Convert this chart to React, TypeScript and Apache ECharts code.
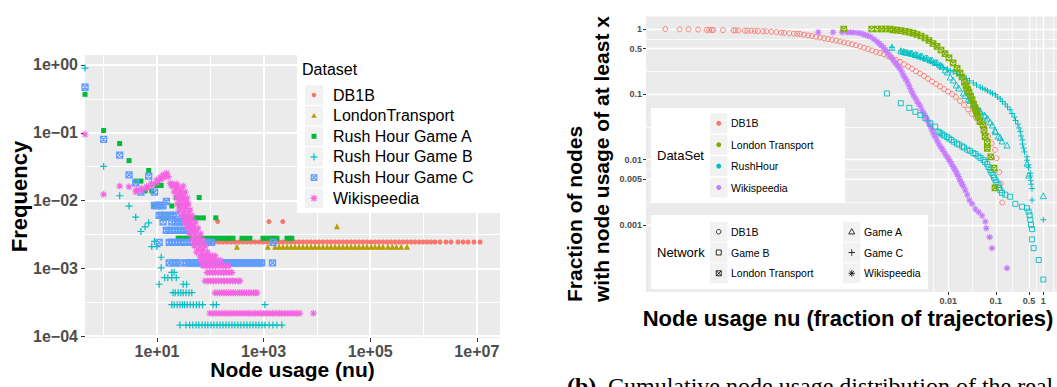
import React, { useEffect, useRef } from 'react';
import * as echarts from 'echarts';

const SANS = '"Liberation Sans", Arial, Helvetica, sans-serif';
const SERIF = '"Liberation Serif", "Times New Roman", serif';

// ggplot default hues
const HUE_DATASET = ['#F8766D', '#B79F00', '#00BA38', '#00BFC4', '#619CFF', '#F564E3'];
const HUE_CUMUL = ['#F8766D', '#7CAE00', '#00BFC4', '#C77CFF'];

// stroked marker shapes (ggplot shapes 3, 7 and 8)
const SYM_PLUS = 'path://M5,0V10M0,5H10';
const SYM_SQUARE_X = 'path://M0,0H10V10H0Z M0,0L10,10 M10,0L0,10';
const SYM_ASTERISK = 'path://M5,0V10 M0,5H10 M1.46,1.46L8.54,8.54 M8.54,1.46L1.46,8.54';

// ---------------- left panel: frequency of node usage ----------------
const leftNuRange = [0.447, 2.72e7];
const leftFreqRange = [9.41e-5, 1.404];
const leftNuTicks = [10, 1e3, 1e5, 1e7];
const leftNuTickLabels = ['1e+01', '1e+03', '1e+05', '1e+07'];
const leftNuMinor = [1, 100, 1e4, 1e6];
const leftFreqTicks = [1, 0.1, 0.01, 0.001, 0.0001];
const leftFreqTickLabels = ['1e+00', '1e\u221201', '1e\u221202', '1e\u221203', '1e\u221204'];
const leftFreqMinor = [0.3162, 0.03162, 0.003162, 0.0003162];

// nodes with zero usage are drawn on the left border of the panel
const NU_ZERO = 0.447;

const datasetNames = ['DB1B', 'LondonTransport', 'Rush Hour Game A', 'Rush Hour Game B', 'Rush Hour Game C', 'Wikispeedia'];

const DB1B_FREQ = 0.00245;
const db1bBandNu = [73, 87, 103, 122, 146, 173, 206, 244, 290, 345, 410, 488, 580, 690, 820, 975, 1160, 1380, 1640, 1950, 2310, 2750, 3270, 3880, 4610, 5480, 6520, 7750, 9200, 10900, 13000, 15500, 18400, 21900, 26000, 30900, 36700, 43700, 51900, 61700, 73300, 87100, 104000, 123000, 146000, 174000, 207000, 246000, 292000, 347000, 412000, 490000, 582000, 692000, 824000, 980000, 1160000, 1380000, 1640000, 2040000, 2640000, 3280000, 4440000, 5510000, 6840000, 8860000, 11500000];
const db1bOther = [[138, 0.0049], [1260, 0.0049], [2290, 0.0049]];

const LONDON_FREQ = 0.00209;
const londonBandNu = [316, 1200, 1640, 1950, 2310, 2750, 3270, 3880, 4610, 5480, 6520, 7750, 9200, 10900, 13000, 15500, 18400, 21900, 26000, 30900, 36700, 43700, 51900, 61700, 73300, 87100, 104000, 123000, 146000, 174000, 215000, 260000, 310000, 380000, 490000];
const londonOther = [[23800, 0.00417]];

const gameAOther = [[NU_ZERO, 0.369], [1, 0.108], [2, 0.0694], [3, 0.0389], [7, 0.0278], [4, 0.0194], [5, 0.0194], [10, 0.0167], [12, 0.0167], [6, 0.0139], [8, 0.0139], [23, 0.0111], [62, 0.0111]];
const gameA3 = [9, 11, 19, 27];
const gameA2 = [13, 16, 31, 36, 42, 50, 60, 74, 127];
const gameA1 = [25, 28, 32, 36, 40, 47, 55, 64, 75, 87, 100, 115, 135, 155, 180, 210, 240, 267, 393, 460, 553, 975, 1150, 1350, 1550, 1780, 2750, 3100, 3380];

const gameBOther = [[NU_ZERO, 0.9], [1, 0.032], [2, 0.0118], [3, 0.0083], [4, 0.0057], [5, 0.0035], [6, 0.0041], [7, 0.0047], [9, 0.0025], [8, 0.0021], [10, 0.0021], [12, 0.00146], [12, 0.00102], [19, 0.000876], [21, 0.000876]];
const gameB5 = [14, 16, 19, 23];
const gameB4 = [11, 31, 36];
const gameB3 = [20, 22, 25, 28, 31, 35, 40, 45];
const gameB2 = [19, 21, 24, 27, 30, 33, 37, 42, 48, 55, 62, 72, 113, 130, 1060];
const gameB1 = [27, 35, 41, 47, 54, 61, 70, 80, 90, 103, 117, 134, 152, 173, 197, 224, 255, 290, 330, 376, 428, 488, 555, 632, 719, 819, 932, 1060, 1270, 1500, 1780, 2200];

const gameCOther = [[NU_ZERO, 0.47], [1, 0.08], [2, 0.047], [3, 0.024], [7, 0.023], [4, 0.0182], [5, 0.0133], [9, 0.0133], [15, 0.0097]];
const gameC7 = [9, 10, 11, 12, 13];
const gameC5 = [11, 12, 14, 16, 18, 20, 23];
const gameC4 = [13, 19, 22, 25, 27, 31, 38];
const gameC3 = [15, 17, 19, 22, 25, 28, 32, 36, 41, 47];
const gameC2 = [11, 17, 19, 22, 25, 28, 32, 36, 41, 47, 54, 62, 70, 80, 92, 105, 1500];
const gameC1 = [17, 20, 23, 27, 36, 40, 45, 50, 56, 62, 70, 78, 87, 97, 108, 120, 134, 150, 167, 186, 207, 231, 257, 287, 320, 357, 398, 443, 494, 550, 614, 684, 762, 850, 920, 1470];

const wikiHead = [[NU_ZERO, 0.095], [1, 0.0124], [2, 0.0164], [3, 0.016],
  [4.1, 0.0144], [5.2, 0.0152], [6.4, 0.0161], [7.9, 0.018], [9.9, 0.0201], [11.4, 0.0221], [13.1, 0.024], [15.2, 0.0254], [16.3, 0.0226],
  [4, 0.0135], [5, 0.0141], [6.5, 0.015], [8, 0.0166], [10, 0.0184], [12, 0.0204], [14, 0.0224],
  [17.6, 0.018], [20, 0.0175], [23.5, 0.0175], [27, 0.0128], [31, 0.0109], [36, 0.0092]];
const wikiSlope = [
  [19, 0.0164], [24, 0.0164], [31, 0.0164], [23, 0.0148], [28, 0.0148],
  [21, 0.0134], [27, 0.0134], [34, 0.0134], [25, 0.0121], [31, 0.0121],
  [23, 0.0109], [29, 0.0109], [37, 0.0109], [27, 0.00987], [33, 0.00987],
  [24, 0.0089], [31, 0.0089], [39, 0.0089], [28, 0.00805], [35, 0.00805],
  [26, 0.00727], [33, 0.00727], [42, 0.00727], [31, 0.00656], [38, 0.00656],
  [29, 0.00593], [37, 0.00593], [46, 0.00593], [35, 0.00535], [43, 0.00535],
  [33, 0.00483], [42, 0.00483], [53, 0.00483], [39, 0.00437], [48, 0.00437],
  [37, 0.00394], [47, 0.00394], [59, 0.00394], [44, 0.00356], [54, 0.00356],
  [41, 0.00322], [52, 0.00322], [66, 0.00322], [49, 0.0029], [60, 0.0029],
  [46, 0.00262], [58, 0.00262], [73, 0.00262], [54, 0.00237], [66, 0.00237],
  [50, 0.00214], [64, 0.00214], [81, 0.00214], [60, 0.00193], [73, 0.00193],
  [55, 0.00175], [70, 0.00175], [89, 0.00175]];
const wiki7 = [64, 72, 82, 95, 110, 123];
const wiki6 = [66, 76, 88, 101, 116, 134, 155];
const wiki5 = [73, 84, 96, 110, 127, 146, 168, 193, 222];
const wiki4 = [87, 98, 110, 124, 140, 158, 178, 200, 226, 255];
const wiki3 = [80, 90, 101, 114, 128, 145, 163, 183, 206, 232, 262, 295, 330, 360];
const wiki2 = [123, 135, 150, 165, 182, 200, 220, 243, 268, 295, 325, 358, 395, 435, 480, 530, 585, 645, 710, 750];
const wiki1 = [98, 112, 128, 146, 166, 189, 215, 244, 278, 316, 360, 410, 466, 530, 605, 688, 783, 890, 1010, 1150, 1310, 1490, 1700, 1940, 2200, 2500, 2850, 3240, 3690, 4200, 4780, 8600];

// ---------------- right panel: cumulative node usage ----------------
const rightNuRange = [4.32e-9, 1.94];
const rightFracRange = [9.38e-5, 1.554];
const rightNuTicks = [0.01, 0.1, 0.5, 1];
const rightNuTickLabels = ['0.01', '0.1', '0.5', '1'];
const rightNuMinor = [0.0048, 0.0316, 0.224, 0.707, 1.6];
const rightFracTicks = [0.001, 0.005, 0.01, 0.1, 0.5, 1];
const rightFracTickLabels = ['0.001', '0.005', '0.01', '0.1', '0.5', '1'];
const rightFracMinor = [0.00224, 0.00707, 0.0316, 0.224, 0.707];

const cumulDataSets = ['DB1B', 'London Transport', 'RushHour', 'Wikispeedia'];
const networkNames = ['DB1B', 'Game B', 'London Transport', 'Game A', 'Game C', 'Wikispeedia'];

const db1bCumul = [[1.1e-8, 1], [2.2e-8, 0.99], [3.4e-8, 0.99], [5.4e-8, 0.98], [8.1e-8, 0.97], [9.2e-8, 0.97], [1.05e-7, 0.965], [1.13e-7, 0.965], [1.8e-7, 0.96], [3.0e-7, 0.955], [3.3e-7, 0.955], [3.8e-7, 0.95], [5.2e-7, 0.945], [5.9e-7, 0.942], [7.1e-7, 0.94], [8.4e-7, 0.935], [9.8e-7, 0.93], [1.25e-6, 0.925], [1.47e-6, 0.92], [1.86e-6, 0.91], [2.4e-6, 0.895], [3.0e-6, 0.88], [3.5e-6, 0.87], [4.5e-6, 0.86], [5.6e-6, 0.85], [6.6e-6, 0.84],
  [7.55e-6, 0.838], [9.17e-6, 0.818], [1.11e-5, 0.801], [1.35e-5, 0.781], [1.64e-5, 0.762], [1.99e-5, 0.741], [2.42e-5, 0.72], [2.93e-5, 0.703], [3.56e-5, 0.684], [4.32e-5, 0.665], [5.25e-5, 0.644], [6.37e-5, 0.624], [7.73e-5, 0.604], [9.39e-5, 0.583], [1.14e-4, 0.563], [1.38e-4, 0.54], [1.68e-4, 0.517], [2.04e-4, 0.494], [2.48e-4, 0.47], [3.01e-4, 0.447], [3.65e-4, 0.43], [4.43e-4, 0.41], [5.38e-4, 0.386], [6.53e-4, 0.36], [7.93e-4, 0.335], [9.62e-4, 0.313], [1.17e-3, 0.288], [1.42e-3, 0.267], [1.72e-3, 0.246], [2.09e-3, 0.226], [2.54e-3, 0.208], [3.08e-3, 0.191], [3.74e-3, 0.173], [4.54e-3, 0.157], [5.51e-3, 0.144], [6.69e-3, 0.132], [8.12e-3, 0.12], [9.86e-3, 0.11], [0.012, 0.101], [0.0145, 0.091], [0.0176, 0.079], [0.0214, 0.0685], [0.026, 0.0585], [0.0315, 0.05], [0.0383, 0.0434], [0.0465, 0.0376], [0.0565, 0.0305], [0.0685, 0.023], [0.082, 0.0177], [0.096, 0.0141], [0.104, 0.0105], [0.118, 0.0064], [0.127, 0.0043], [0.137, 0.0022]];

const londonCumul = [[6.3e-5, 1], [2.44e-4, 1], [3.2e-4, 1], [3.96e-4, 1], [4.81e-4, 1], [5.93e-4, 1], [6.85e-4, 0.972], [8.32e-4, 0.958], [1.01e-3, 0.942], [1.23e-3, 0.922], [1.49e-3, 0.897], [1.81e-3, 0.862], [2.19e-3, 0.824], [2.66e-3, 0.781], [3.23e-3, 0.728], [3.92e-3, 0.667], [4.76e-3, 0.6], [5.78e-3, 0.54], [7.02e-3, 0.477], [8.52e-3, 0.421], [0.0103, 0.36], [0.0126, 0.302], [0.0153, 0.249], [0.0176, 0.212], [0.0194, 0.184], [0.0219, 0.154], [0.0236, 0.136], [0.0254, 0.12], [0.0273, 0.108], [0.0293, 0.094], [0.0316, 0.0833], [0.034, 0.071], [0.0365, 0.0628], [0.0383, 0.0557], [0.0402, 0.0508], [0.0422, 0.0458], [0.0465, 0.038], [0.0538, 0.0339], [0.0565, 0.0282], [0.0593, 0.0225], [0.0662, 0.0186], [0.0662, 0.0149], [0.0781, 0.011], [0.0916, 0.0074], [0.0961, 0.0037]];

const gameACumul = [[6.5e-4, 0.524], [1e-3, 0.465], [1.15e-3, 0.452], [1.24e-3, 0.444], [1.37e-3, 0.44], [1.58e-3, 0.43], [1.72e-3, 0.424], [2.02e-3, 0.407], [2.19e-3, 0.404], [2.58e-3, 0.386], [2.79e-3, 0.383], [3.28e-3, 0.36], [3.6e-3, 0.36], [4.18e-3, 0.335], [4.54e-3, 0.335], [5.3e-3, 0.307], [5.78e-3, 0.307], [6.79e-3, 0.281], [7.37e-3, 0.267], [8.6e-3, 0.236], [9.5e-3, 0.22], [0.011, 0.184], [0.0126, 0.166], [0.0147, 0.139], [0.0165, 0.125], [0.0207, 0.105], [0.0226, 0.0961], [0.0264, 0.085], [0.0287, 0.0806], [0.0336, 0.0685], [0.0365, 0.0674], [0.0408, 0.0597], [0.0465, 0.0566], [0.047, 0.0542], [0.0573, 0.048], [0.0593, 0.0465], [0.066, 0.0433], [0.0756, 0.0376], [0.0844, 0.0339], [0.0963, 0.0282], [0.098, 0.0268], [0.113, 0.0229], [0.123, 0.0218], [0.135, 0.0193], [0.172, 0.0167], [0.454, 0.0088], [0.49, 0.0058], [1, 0.0028]];

const gameBCumul = [[5.1e-4, 0.103], [1.0e-3, 0.073], [1.51e-3, 0.062], [2.02e-3, 0.054], [2.58e-3, 0.048], [3.28e-3, 0.043], [4.18e-3, 0.036], [5.3e-3, 0.032], [6.2e-3, 0.0268], [6.79e-3, 0.0256], [7.5e-3, 0.0243], [8.12e-3, 0.0233], [9.3e-3, 0.0222], [0.0104, 0.021], [0.0116, 0.02], [0.013, 0.0188], [0.0152, 0.0176], [0.0169, 0.017], [0.0197, 0.0159], [0.0214, 0.0153], [0.0251, 0.0142], [0.0287, 0.0136], [0.0336, 0.0126], [0.0375, 0.0121], [0.0428, 0.0112], [0.0476, 0.0106], [0.055, 0.0099], [0.0593, 0.0092], [0.066, 0.0085], [0.0701, 0.0077], [0.0766, 0.0069], [0.0812, 0.0063], [0.0886, 0.0058], [0.0916, 0.0053], [0.098, 0.0049], [0.103, 0.0045], [0.113, 0.0041], [0.117, 0.0037], [0.124, 0.0034], [0.135, 0.0031], [0.158, 0.0029], [0.2, 0.0027], [0.257, 0.0021], [0.356, 0.0019], [0.454, 0.0018], [0.49, 0.0016], [0.515, 0.0014], [0.532, 0.0012], [0.55, 0.001], [0.578, 8.6e-4], [0.578, 6.0e-4], [0.625, 4.4e-4], [0.8, 2.9e-4], [1.0, 1.46e-4]];

const gameCCumul = [[6.5e-4, 0.524], [1e-3, 0.46], [1.15e-3, 0.444], [1.37e-3, 0.43], [1.58e-3, 0.414], [1.83e-3, 0.4], [2.17e-3, 0.382], [2.58e-3, 0.366], [3.05e-3, 0.35], [3.6e-3, 0.335], [4.18e-3, 0.318], [4.83e-3, 0.302], [5.73e-3, 0.286], [6.79e-3, 0.271], [8e-3, 0.257], [9.5e-3, 0.244], [0.011, 0.231], [0.0127, 0.22], [0.0149, 0.206], [0.0179, 0.194], [0.0204, 0.184], [0.024, 0.175], [0.0279, 0.161], [0.0336, 0.149], [0.0392, 0.139], [0.047, 0.129], [0.0524, 0.124], [0.06, 0.118], [0.0668, 0.113], [0.0766, 0.108], [0.0852, 0.103], [0.098, 0.098], [0.108, 0.0909], [0.124, 0.085], [0.138, 0.0775], [0.158, 0.071], [0.176, 0.0642], [0.2, 0.058], [0.219, 0.0508], [0.245, 0.045], [0.26, 0.0397], [0.29, 0.035], [0.308, 0.0305], [0.328, 0.0268], [0.34, 0.023], [0.361, 0.02], [0.365, 0.0173], [0.385, 0.015], [0.402, 0.0131], [0.454, 0.011], [0.454, 0.0098], [0.49, 0.0083], [0.488, 0.0075], [0.532, 0.0062], [0.525, 0.0056], [0.545, 0.0048], [0.551, 0.0042], [0.578, 0.0036], [0.578, 0.0024], [1, 0.0012]];

const wikiCumul = [[1.83e-5, 0.89], [3.74e-5, 0.89], [5.8e-5, 0.89], [7.4e-5, 0.89], [8.6e-5, 0.888], [1.0e-4, 0.885], [1.2e-4, 0.875], [1.4e-4, 0.86], [1.6e-4, 0.835], [1.79e-4, 0.81], [2.0e-4, 0.79], [2.28e-4, 0.763], [2.7e-4, 0.7], [3.16e-4, 0.64], [3.5e-4, 0.6], [3.9e-4, 0.56], [4.3e-4, 0.52], [4.72e-4, 0.477], [5.2e-4, 0.44], [5.75e-4, 0.4], [6.3e-4, 0.365], [6.95e-4, 0.335], [7.6e-4, 0.305], [8.4e-4, 0.28], [9.2e-4, 0.256], [1e-3, 0.235], [1.08e-3, 0.21], [1.16e-3, 0.19], [1.26e-3, 0.172], [1.37e-3, 0.156], [1.47e-3, 0.138], [1.58e-3, 0.123], [1.7e-3, 0.11], [1.83e-3, 0.098], [2.0e-3, 0.088], [2.17e-3, 0.079], [2.37e-3, 0.072], [2.58e-3, 0.065], [2.8e-3, 0.057], [3.05e-3, 0.051], [3.3e-3, 0.0455], [3.6e-3, 0.0407], [3.9e-3, 0.036], [4.18e-3, 0.0322], [4.5e-3, 0.0285], [4.83e-3, 0.0253], [5.25e-3, 0.0225], [5.73e-3, 0.02], [6.2e-3, 0.0178], [6.79e-3, 0.0159], [7.4e-3, 0.0145], [8.0e-3, 0.0133], [8.7e-3, 0.0121], [9.5e-3, 0.011], [0.0102, 0.0101], [0.011, 0.0093], [0.0118, 0.0085], [0.0127, 0.0078], [0.0135, 0.0072], [0.0144, 0.0066], [0.0153, 0.006], [0.0163, 0.0055], [0.0173, 0.005], [0.0183, 0.0046], [0.0195, 0.0042], [0.0207, 0.0039], [0.0228, 0.0034], [0.0251, 0.0029], [0.0277, 0.0024], [0.0316, 0.0021], [0.037, 0.00175], [0.0435, 0.00157], [0.0513, 0.00138], [0.0601, 0.00112], [0.063, 8.9e-4], [0.074, 6.5e-4], [0.083, 4.4e-4], [0.172, 2.18e-4]];

const atFreq = (nus, freq) => nus.map((nu) => [nu, freq]);

const tickText = (ticks, labels) => (v) => {
  const lv = Math.log10(v);
  const i = ticks.findIndex((t) => Math.abs(Math.log10(t) - lv) < 1e-6);
  return i < 0 ? '' : labels[i];
};

function majorAxis(gridIndex, range, ticks, labels, o) {
  return {
    type: 'log', logBase: 10, gridIndex, min: range[0], max: range[1], position: o.position,
    axisLine: { show: false },
    axisTick: { show: true, customValues: ticks, length: o.tickLen, lineStyle: { color: '#333333', width: 1 } },
    axisLabel: {
      show: true, customValues: ticks, margin: o.margin, formatter: tickText(ticks, labels),
      color: '#4D4D4D', fontSize: o.fontSize, fontWeight: 'bold', fontFamily: SANS,
    },
    splitLine: { show: true, lineStyle: { color: '#FFFFFF', width: o.lineWidth } },
    minorTick: { show: false }, minorSplitLine: { show: false },
  };
}

function minorAxis(gridIndex, range, values, width, position) {
  return {
    type: 'log', logBase: 10, gridIndex, min: range[0], max: range[1], position,
    axisLine: { show: false },
    axisTick: { show: false, customValues: values },
    axisLabel: { show: false, customValues: values },
    splitLine: { show: true, lineStyle: { color: '#FFFFFF', width } },
  };
}

function scatter(name, xAxisIndex, yAxisIndex, data, symbol, size, color, hollow, lw = 1) {
  return {
    type: 'scatter', name, xAxisIndex, yAxisIndex, data, symbol, symbolSize: size,
    silent: true, emphasis: { disabled: true },
    itemStyle: hollow
      ? { color: 'rgba(0,0,0,0)', borderColor: color, borderWidth: lw, opacity: 1 }
      : { color, borderWidth: 0, opacity: 1 },
  };
}

// legend key glyphs drawn with graphic primitives
function glyph(kind, cx, cy, s, color, lw, z) {
  const h = s / 2;
  const line = (x1, y1, x2, y2) => ({ type: 'line', z, shape: { x1, y1, x2, y2 }, style: { stroke: color, lineWidth: lw } });
  const stroke = { fill: 'none', stroke: color, lineWidth: lw };
  switch (kind) {
    case 'dot': return [{ type: 'circle', z, shape: { cx, cy, r: h }, style: { fill: color } }];
    case 'ring': return [{ type: 'circle', z, shape: { cx, cy, r: h }, style: stroke }];
    case 'tri': return [{ type: 'polygon', z, shape: { points: [[cx, cy - h], [cx + h, cy + h * 0.75], [cx - h, cy + h * 0.75]] }, style: { fill: color } }];
    case 'openTri': return [{ type: 'polygon', z, shape: { points: [[cx, cy - h], [cx + h, cy + h * 0.75], [cx - h, cy + h * 0.75]] }, style: stroke }];
    case 'square': return [{ type: 'rect', z, shape: { x: cx - h, y: cy - h, width: s, height: s }, style: { fill: color } }];
    case 'openSquare': return [{ type: 'rect', z, shape: { x: cx - h, y: cy - h, width: s, height: s }, style: stroke }];
    case 'squareX': return [{ type: 'rect', z, shape: { x: cx - h, y: cy - h, width: s, height: s }, style: stroke }, line(cx - h, cy - h, cx + h, cy + h), line(cx + h, cy - h, cx - h, cy + h)];
    case 'plus': return [line(cx, cy - h, cx, cy + h), line(cx - h, cy, cx + h, cy)];
    case 'asterisk': {
      const d = h * 0.707;
      return [line(cx, cy - h, cx, cy + h), line(cx - h, cy, cx + h, cy), line(cx - d, cy - d, cx + d, cy + d), line(cx + d, cy - d, cx - d, cy + d)];
    }
    default: return [];
  }
}

function text(str, x, y, o) {
  return {
    type: 'text', x, y, rotation: o.rotation || 0, z: o.z || 110,
    style: {
      text: str, fill: o.fill || '#000000', fontSize: o.fontSize, fontFamily: o.fontFamily || SANS,
      fontWeight: o.fontWeight || 'normal', align: o.align || 'left', verticalAlign: 'middle',
      lineHeight: o.lineHeight,
    },
  };
}

function keyBox(x, cy, w, h) {
  return { type: 'rect', z: 101, shape: { x, y: cy - h / 2, width: w, height: h }, style: { fill: '#F2F2F2' } };
}

function buildGraphics() {
  const els = [];
  // left legend
  els.push({ type: 'rect', z: 100, shape: { x: 297, y: 55, width: 203, height: 158 }, style: { fill: '#FFFFFF' } });
  els.push(text('Dataset', 302, 69.5, { fontSize: 16 }));
  const leftKinds = ['dot', 'tri', 'square', 'plus', 'squareX', 'asterisk'];
  const leftSizes = [4.5, 5.5, 5, 7, 5.5, 7];
  datasetNames.forEach((name, i) => {
    const cy = 95 + i * 20.65;
    els.push(keyBox(305, cy, 18, 19.5));
    els.push(...glyph(leftKinds[i], 314, cy, leftSizes[i], HUE_DATASET[i], 1.2, 102));
    els.push(text(name, 333, cy, { fontSize: 16 }));
  });

  // right legend: colour by data set
  els.push({ type: 'rect', z: 100, shape: { x: 651, y: 108, width: 194, height: 95 }, style: { fill: '#FFFFFF' } });
  els.push(text('DataSet', 657, 155.5, { fontSize: 13 }));
  cumulDataSets.forEach((name, i) => {
    const cy = 123.3 + i * 21.4;
    els.push(keyBox(710, cy, 17.5, 20));
    els.push(...glyph('dot', 718.75, cy, 5, HUE_CUMUL[i], 1, 102));
    els.push(text(name, 731, cy, { fontSize: 10.5 }));
  });

  // right legend: shape by network
  els.push({ type: 'rect', z: 100, shape: { x: 651, y: 215, width: 277, height: 74 }, style: { fill: '#FFFFFF' } });
  els.push(text('Network', 657, 252.5, { fontSize: 13 }));
  const netKinds = ['ring', 'openSquare', 'squareX', 'openTri', 'plus', 'asterisk'];
  const netSizes = [4.6, 5, 5, 6, 6.5, 6.5];
  networkNames.forEach((name, i) => {
    const col = i < 3 ? 0 : 1;
    const cy = 231.7 + (i % 3) * 20.8;
    const kx = col === 0 ? 710 : 843;
    els.push(keyBox(kx, cy, 17.5, 20));
    els.push(...glyph(netKinds[i], kx + 8.75, cy, netSizes[i], '#1A1A1A', 0.9, 102));
    els.push(text(name, kx + 21, cy, { fontSize: 10.5 }));
  });

  // axis titles
  els.push(text('Frequency', 19, 196.5, { fontSize: 22, fontWeight: 'bold', align: 'center', rotation: Math.PI / 2 }));
  els.push(text('Node usage (nu)', 292.5, 369.5, { fontSize: 21, fontWeight: 'bold', align: 'center' }));
  els.push(text('Fraction of nodes\nwith node usage of at least x', 588, 302, { fontSize: 21, fontWeight: 'bold', align: 'left', rotation: Math.PI / 2, lineHeight: 26.5 }));
  els.push(text('Node usage nu (fraction of trajectories)', 848, 318.5, { fontSize: 22, fontWeight: 'bold', align: 'center' }));

  // figure caption
  els.push(text('(b)', 567, 386, { fontSize: 24, fontFamily: SERIF, fontWeight: 'bold' }));
  els.push(text('Cumulative node usage distribution of the real', 608, 386, { fontSize: 24, fontFamily: SERIF }));
  return els;
}

function buildOption() {
  const [cDb, cLo, cGa, cGb, cGc, cWi] = HUE_DATASET;
  const [kDb, kLo, kRu, kWi] = HUE_CUMUL;
  return {
    animation: false,
    backgroundColor: '#FFFFFF',
    grid: [
      { left: 85, top: 55, right: 557, bottom: 49, show: true, backgroundColor: '#EBEBEB', borderWidth: 0 },
      { left: 646, top: 16.5, right: 0, bottom: 95, show: true, backgroundColor: '#EBEBEB', borderWidth: 0 },
    ],
    xAxis: [
      majorAxis(0, leftNuRange, leftNuTicks, leftNuTickLabels, { position: 'bottom', tickLen: 4, margin: 5, fontSize: 16, lineWidth: 2 }),
      minorAxis(0, leftNuRange, leftNuMinor, 1, 'bottom'),
      majorAxis(1, rightNuRange, rightNuTicks, rightNuTickLabels, { position: 'bottom', tickLen: 3, margin: 4, fontSize: 9, lineWidth: 1.3 }),
      minorAxis(1, rightNuRange, rightNuMinor, 0.7, 'bottom'),
    ],
    yAxis: [
      majorAxis(0, leftFreqRange, leftFreqTicks, leftFreqTickLabels, { position: 'left', tickLen: 4, margin: 7, fontSize: 16, lineWidth: 2 }),
      minorAxis(0, leftFreqRange, leftFreqMinor, 1, 'left'),
      majorAxis(1, rightFracRange, rightFracTicks, rightFracTickLabels, { position: 'left', tickLen: 3, margin: 4, fontSize: 9, lineWidth: 1.3 }),
      minorAxis(1, rightFracRange, rightFracMinor, 0.7, 'left'),
    ],
    series: [
      // left panel
      scatter('DB1B', 0, 0, [...atFreq(db1bBandNu, DB1B_FREQ), ...db1bOther], 'circle', 5, cDb, false),
      scatter('LondonTransport', 0, 0, [...atFreq(londonBandNu, LONDON_FREQ), ...londonOther], 'triangle', 6, cLo, false),
      scatter('Rush Hour Game A', 0, 0, [...gameAOther, ...atFreq(gameA3, 0.00833), ...atFreq(gameA2, 0.00556), ...atFreq(gameA1, 0.00278)], 'rect', 5, cGa, false),
      scatter('Rush Hour Game B', 0, 0, [...gameBOther, ...atFreq(gameB5, 0.00073), ...atFreq(gameB4, 0.000584), ...atFreq(gameB3, 0.000438), ...atFreq(gameB2, 0.000292), ...atFreq(gameB1, 0.000146)], SYM_PLUS, 7, cGb, true, 1.2),
      scatter('Rush Hour Game C', 0, 0, [...gameCOther, ...atFreq(gameC7, 0.00847), ...atFreq(gameC5, 0.00605), ...atFreq(gameC4, 0.00484), ...atFreq(gameC3, 0.00363), ...atFreq(gameC2, 0.00242), ...atFreq(gameC1, 0.00121)], SYM_SQUARE_X, 6, cGc, true, 1.3),
      scatter('Wikispeedia', 0, 0, [...wikiHead, ...wikiSlope, ...atFreq(wiki7, 0.00153), ...atFreq(wiki6, 0.00131), ...atFreq(wiki5, 0.00109), ...atFreq(wiki4, 0.000871), ...atFreq(wiki3, 0.000654), ...atFreq(wiki2, 0.000436), ...atFreq(wiki1, 0.000218)], SYM_ASTERISK, 7, cWi, true, 1.1),
      // right panel
      scatter('DB1B cumulative', 2, 2, db1bCumul, 'circle', 5, kDb, true, 0.9),
      scatter('Wikispeedia cumulative', 2, 2, wikiCumul, SYM_ASTERISK, 6.5, kWi, true, 1.1),
      scatter('Game A cumulative', 2, 2, gameACumul, 'triangle', 6, kRu, true, 0.9),
      scatter('Game B cumulative', 2, 2, gameBCumul, 'rect', 5, kRu, true, 0.9),
      scatter('Game C cumulative', 2, 2, gameCCumul, SYM_PLUS, 6, kRu, true, 1),
      scatter('London Transport cumulative', 2, 2, londonCumul, SYM_SQUARE_X, 5.5, kLo, true, 1.2),
    ],
    graphic: { elements: buildGraphics() },
  };
}

export default function App() {
  const ref = useRef(null);
  useEffect(() => {
    const chart = echarts.init(ref.current, null, { renderer: 'svg' });
    chart.setOption(buildOption());
    return () => chart.dispose();
  }, []);
  return (
    <div
      ref={ref}
      style={{ position: 'absolute', left: 0, top: 0, width: 1057, height: 387, background: '#FFFFFF', overflow: 'hidden' }}
    />
  );
}
